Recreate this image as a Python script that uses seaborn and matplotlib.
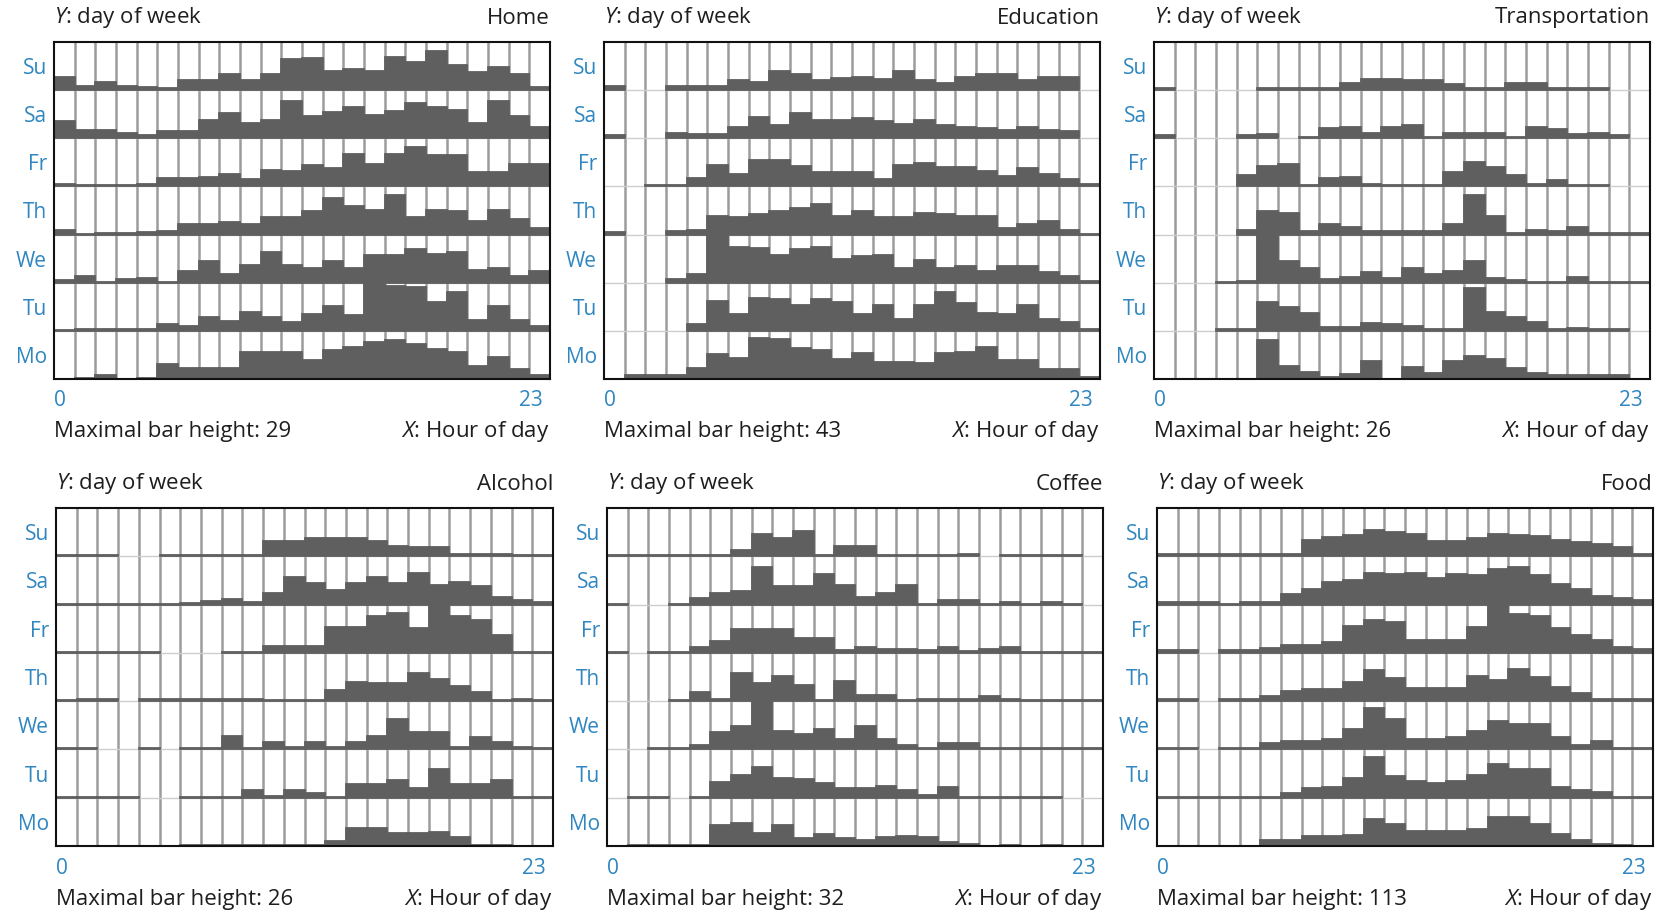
import pandas as pd
import matplotlib
matplotlib.use("Agg")
import matplotlib.pyplot as plt
import seaborn as sns

days = ["Mo", "Tu", "We", "Th", "Fr", "Sa", "Su"]
hours = list(range(24))

# bar heights, in % of the panel's maximal bar; rows Mo..Su
home = [
    [1, 3, 8, 1, 3, 32, 22, 22, 22, 56, 56, 56, 39, 60, 66, 76, 81, 73, 63, 56, 27, 46, 20, 8],
    [1, 3, 3, 3, 3, 15, 10, 28, 21, 40, 28, 19, 34, 52, 33, 100, 93, 91, 59, 81, 22, 52, 22, 10],
    [5, 14, 2, 7, 9, 2, 24, 45, 19, 37, 64, 37, 30, 46, 31, 57, 57, 71, 59, 64, 26, 31, 14, 24],
    [10, 2, 3, 3, 5, 7, 21, 22, 26, 22, 36, 36, 49, 76, 59, 52, 82, 36, 52, 50, 28, 52, 33, 14],
    [6, 4, 3, 2, 6, 18, 18, 20, 25, 16, 35, 32, 44, 39, 68, 46, 67, 81, 65, 65, 31, 31, 47, 47],
    [35, 17, 17, 12, 6, 15, 15, 37, 52, 31, 37, 77, 47, 54, 66, 49, 56, 73, 66, 58, 31, 77, 47, 24],
    [28, 8, 16, 8, 6, 4, 22, 22, 33, 22, 33, 64, 66, 40, 43, 40, 69, 59, 81, 52, 38, 49, 33, 6],
]
education = [
    [0, 8, 8, 8, 22, 51, 44, 86, 83, 65, 60, 42, 54, 35, 35, 33, 54, 56, 66, 39, 39, 20, 20, 5],
    [0, 0, 0, 0, 14, 63, 36, 69, 66, 54, 66, 59, 36, 54, 24, 54, 81, 57, 38, 34, 54, 24, 19, 3],
    [0, 0, 0, 7, 19, 100, 74, 72, 57, 69, 74, 50, 55, 57, 31, 48, 31, 34, 24, 34, 34, 23, 14, 3],
    [6, 0, 0, 7, 10, 38, 36, 42, 48, 56, 63, 38, 48, 36, 36, 45, 42, 38, 38, 14, 22, 28, 10, 1],
    [0, 0, 4, 4, 18, 44, 25, 54, 54, 43, 31, 31, 31, 15, 44, 49, 40, 40, 32, 22, 39, 25, 15, 6],
    [6, 0, 0, 10, 8, 9, 24, 45, 28, 52, 38, 38, 42, 35, 30, 37, 28, 23, 22, 17, 23, 17, 15, 0],
    [8, 0, 0, 8, 8, 8, 22, 17, 40, 33, 22, 26, 28, 24, 40, 22, 15, 28, 33, 33, 22, 28, 28, 0],
]
transportation = [
    [0, 0, 0, 0, 0, 80, 27, 15, 5, 10, 38, 1, 25, 12, 38, 47, 42, 22, 13, 8, 8, 8, 8, 0],
    [0, 0, 0, 3, 3, 59, 50, 38, 7, 7, 17, 15, 10, 3, 3, 88, 40, 28, 19, 3, 5, 3, 3, 0],
    [0, 0, 0, 2, 3, 100, 45, 31, 7, 12, 23, 10, 30, 19, 24, 45, 10, 5, 2, 2, 12, 2, 2, 2],
    [0, 0, 0, 0, 10, 50, 45, 8, 22, 15, 8, 7, 7, 7, 21, 82, 38, 3, 10, 7, 15, 3, 3, 3],
    [0, 0, 0, 0, 24, 43, 46, 4, 18, 20, 6, 4, 4, 4, 31, 50, 40, 24, 6, 13, 4, 4, 0, 0],
    [6, 0, 0, 0, 6, 8, 0, 3, 22, 24, 12, 24, 28, 3, 12, 12, 12, 3, 23, 19, 8, 10, 6, 0],
    [5, 0, 0, 0, 0, 4, 5, 5, 5, 15, 24, 24, 22, 22, 12, 5, 5, 15, 15, 5, 5, 5, 0, 0],
]
alcohol = [
    [0, 0, 0, 0, 0, 0, 3, 3, 2, 2, 2, 2, 2, 10, 37, 37, 26, 26, 30, 19, 3, 2, 0, 0],
    [2, 2, 2, 2, 0, 0, 2, 2, 2, 16, 4, 16, 9, 2, 28, 28, 37, 21, 59, 28, 28, 37, 2, 2],
    [2, 2, 0, 0, 2, 0, 2, 2, 28, 2, 16, 5, 16, 5, 16, 28, 63, 37, 37, 5, 26, 16, 5, 2],
    [2, 5, 5, 0, 5, 5, 5, 5, 5, 5, 2, 2, 2, 23, 40, 37, 37, 59, 45, 32, 18, 2, 5, 2],
    [2, 2, 2, 2, 2, 0, 0, 0, 2, 2, 14, 14, 14, 54, 54, 77, 83, 52, 100, 77, 68, 37, 2, 2],
    [2, 2, 2, 2, 2, 2, 4, 7, 12, 5, 23, 57, 45, 30, 45, 57, 45, 66, 41, 47, 38, 16, 9, 6],
    [3, 3, 3, 0, 0, 3, 3, 3, 3, 3, 31, 31, 37, 37, 37, 31, 22, 19, 19, 5, 5, 5, 3, 3],
]
coffee = [
    [0, 2, 2, 2, 2, 43, 47, 26, 43, 16, 24, 16, 12, 19, 21, 19, 8, 5, 0, 3, 0, 2, 0, 0],
    [0, 2, 2, 0, 2, 33, 48, 64, 40, 39, 30, 21, 21, 25, 16, 6, 23, 2, 2, 2, 2, 2, 0, 0],
    [0, 0, 2, 2, 10, 37, 49, 100, 38, 31, 42, 21, 49, 21, 9, 2, 14, 14, 2, 2, 2, 2, 2, 2],
    [0, 0, 0, 2, 18, 5, 59, 37, 52, 33, 2, 41, 12, 12, 2, 5, 5, 5, 11, 5, 2, 2, 2, 2],
    [2, 0, 2, 2, 12, 24, 49, 49, 49, 31, 31, 5, 12, 8, 8, 5, 12, 3, 8, 12, 2, 2, 2, 2],
    [2, 0, 0, 2, 14, 23, 28, 77, 38, 38, 64, 40, 16, 23, 40, 2, 9, 9, 2, 5, 2, 5, 2, 0],
    [3, 3, 3, 3, 3, 3, 12, 46, 37, 53, 3, 21, 21, 3, 3, 3, 3, 5, 0, 3, 3, 3, 3, 0],
]
food = [
    [0, 0, 0, 0, 0, 12, 12, 21, 21, 23, 56, 45, 31, 31, 31, 35, 61, 61, 45, 24, 12, 5, 3, 0],
    [2, 2, 2, 2, 2, 2, 9, 21, 23, 41, 85, 46, 34, 30, 34, 47, 69, 59, 59, 23, 16, 11, 2, 2],
    [3, 3, 0, 3, 3, 14, 17, 17, 21, 42, 86, 63, 21, 21, 26, 38, 59, 52, 52, 26, 9, 17, 3, 3],
    [5, 5, 0, 5, 5, 11, 21, 25, 25, 40, 64, 48, 28, 28, 28, 52, 43, 66, 50, 30, 16, 5, 5, 5],
    [5, 5, 0, 5, 5, 10, 17, 17, 23, 56, 68, 64, 26, 26, 26, 54, 100, 81, 77, 51, 37, 26, 12, 8],
    [6, 6, 6, 2, 6, 6, 21, 33, 47, 50, 66, 64, 66, 54, 64, 62, 73, 77, 62, 43, 33, 18, 14, 9],
    [5, 5, 5, 5, 5, 5, 5, 33, 40, 44, 55, 51, 46, 31, 31, 37, 46, 44, 42, 33, 29, 26, 19, 5],
]

titles = ["Home", "Education", "Transportation", "Alcohol", "Coffee", "Food"]
max_heights = [29, 43, 26, 26, 32, 113]
grids = [home, education, transportation, alcohol, coffee, food]

BAR = "#5f5f5f"
BLUE = "#2f86c0"
TXT = "#1e1e1e"
FS = 16

sns.set_style("white")
plt.rcParams["font.family"] = ["Open Sans", "DejaVu Sans"]
plt.rcParams["mathtext.fontset"] = "custom"
plt.rcParams["mathtext.rm"] = "Open Sans"
plt.rcParams["mathtext.it"] = "Open Sans:italic"

W, H = 1670, 915
fig = plt.figure(figsize=(W / 100, H / 100), dpi=100)

# panel frames in pixels: left, top, right, bottom
frames = [
    (54, 42, 550, 379), (604, 42, 1100, 379), (1154, 42, 1650, 379),
    (56, 508, 553, 846), (607, 508, 1103, 846), (1157, 508, 1653, 846),
]

for (l, t, r, b), title, top, grid in zip(frames, titles, max_heights, grids):
    ax = fig.add_axes([l / W, (H - b) / H, (r - l) / W, (b - t) / H])

    df = pd.DataFrame(grid, index=days, columns=hours)
    df = df.stack().rename("share").reset_index()
    df.columns = ["day", "hour", "share"]
    df["height"] = df["share"] / 100

    for h in range(23):
        ax.axvline(h + 0.5, color="#9c9c9c", lw=1.8, zorder=0.5)
    for k in range(1, 7):
        ax.axhline(k, color="#cdcdcd", lw=1, zorder=0.5)

    for k, d in enumerate(days):
        sub = df[(df["day"] == d) & (df["share"] > 0)]
        sns.barplot(data=sub, x="hour", y="height", order=hours,
                    width=1, color=BAR, saturation=1, errorbar=None, bottom=k,
                    edgecolor=BAR, linewidth=1.3, zorder=2, ax=ax)

    ax.set_xlim(-0.5, 23.5)
    ax.set_ylim(0, 7)
    ax.set_xticks([])
    ax.set_yticks([k + 0.5 for k in range(7)])
    ax.set_yticklabels(days, color=BLUE, fontsize=15)
    ax.tick_params(axis="y", length=0, pad=5)
    ax.set_xlabel("")
    ax.set_ylabel("")
    for s in ax.spines.values():
        s.set_visible(True)
        s.set_color("#111111")
        s.set_linewidth(1.5)
        s.set_zorder(5)

    ph = b - t
    ax.text(0, 1 + 24 / ph, r"$\mathit{Y}$: day of week", transform=ax.transAxes,
            ha="left", va="center", fontsize=FS, color=TXT)
    ax.text(1, 1 + 24 / ph, title, transform=ax.transAxes,
            ha="right", va="center", fontsize=FS, color=TXT)
    ax.text(0, -22 / ph, "0", transform=ax.transAxes,
            ha="left", va="center", fontsize=15, color=BLUE)
    ax.text(0.986, -22 / ph, "23", transform=ax.transAxes,
            ha="right", va="center", fontsize=15, color=BLUE)
    ax.text(0, -53 / ph, f"Maximal bar height: {top}", transform=ax.transAxes,
            ha="left", va="center", fontsize=FS, color=TXT)
    ax.text(1, -53 / ph, r"$\mathit{X}$: Hour of day", transform=ax.transAxes,
            ha="right", va="center", fontsize=FS, color=TXT)

fig.savefig("out.png", dpi=100)
